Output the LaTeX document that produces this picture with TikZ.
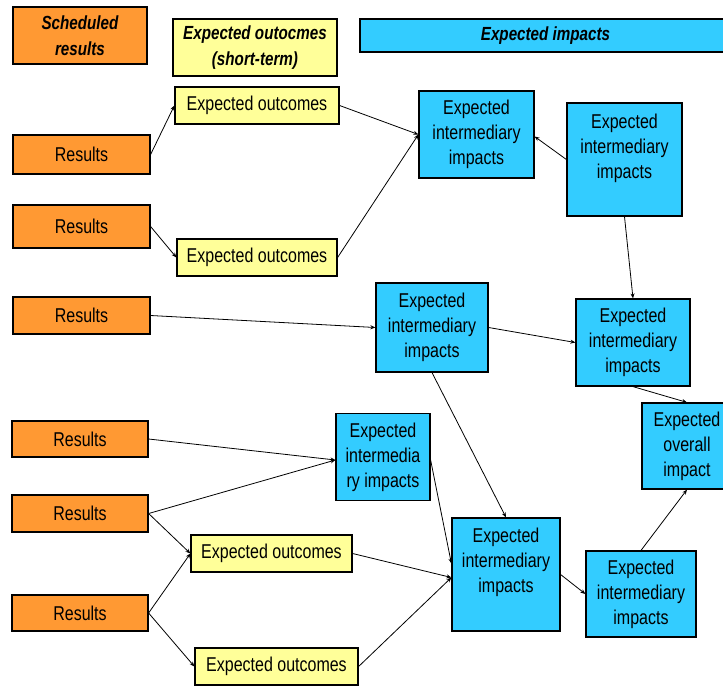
\documentclass[tikz,border=0pt]{standalone}
\usepackage{fontspec}
\setmainfont{Liberation Sans}[FakeStretch=0.8]
\usetikzlibrary{arrows.meta,calc}
\definecolor{orng}{HTML}{FF9933}
\definecolor{yel}{HTML}{FFFF99}
\definecolor{blu}{HTML}{33CCFF}
\begin{document}
\begin{tikzpicture}[x=1pt,y=-1pt,
 box/.style={draw=black, line width=1.2pt, inner sep=0pt, align=center, font=\fontsize{20}{25}\selectfont},
 res/.style={box, fill=orng},
 outc/.style={box, fill=yel},
 imp/.style={box, fill=blu},
 head/.style={font=\fontsize{19}{26}\selectfont\bfseries\itshape},
 conn/.style={line width=0.8pt, -{Stealth[length=5pt,width=4pt]}},
 lbl/.style={align=center, inner sep=0pt, font=\fontsize{20}{25}\selectfont}]
\useasboundingbox (0,0) rectangle (723,686);
\clip (0,0) rectangle (723,686);
% headers
\node[res, head, minimum width=134pt, minimum height=57pt] (sched) at (80,35.5) {Scheduled\\results};
\node[outc, head, minimum width=164pt, minimum height=57pt] (outh) at (255,47.5) {Expected outocmes\\(short-term)};
\node[imp, head, minimum width=371pt, minimum height=33pt] (imph) at (545.5,35.5) {Expected impacts};
% results
\node[res, minimum width=137pt, minimum height=39pt] (r1) at (81.5,154.5) {Results};
\node[res, minimum width=137pt, minimum height=43pt] (r2) at (81.5,226.5) {Results};
\node[res, minimum width=137pt, minimum height=37pt] (r3) at (81.5,315.5) {Results};
\node[res, minimum width=136pt, minimum height=36pt] (r4) at (80,439) {Results};
\node[res, minimum width=136pt, minimum height=37pt] (r5) at (80,513.5) {Results};
\node[res, minimum width=136pt, minimum height=36pt] (r6) at (80,613) {Results};
% outcomes
\node[outc, minimum width=164pt, minimum height=37pt] (eo1) at (257,105.5) {Expected outcomes};
\node[outc, minimum width=160pt, minimum height=37pt] (eo2) at (257,257.5) {Expected outcomes};
\node[outc, minimum width=161pt, minimum height=37pt] (eo3) at (271.5,553.5) {Expected outcomes};
\node[outc, minimum width=163pt, minimum height=37pt] (eo4) at (276.5,666.5) {Expected outcomes};
% impacts
\node[imp, minimum width=115pt, minimum height=87pt] (i1) at (476.5,134.5) {Expected\\intermediary\\impacts};
\node[imp, minimum width=115pt, minimum height=113pt] (i2) at (624.5,159.5) {};
\node[lbl] (i2t) at (624.5,148) {Expected\\intermediary\\impacts};
\node[imp, minimum width=112pt, minimum height=89pt] (i3) at (432,327.5) {Expected\\intermediary\\impacts};
\node[imp, minimum width=114pt, minimum height=87pt] (i4) at (633,342.5) {Expected\\intermediary\\impacts};
\node[imp, minimum width=94pt, minimum height=87pt] (i5) at (383,457) {Expected\\intermedia\\ry impacts};
\node[imp, minimum width=108pt, minimum height=113pt] (i6) at (506,574.5) {};
\node[lbl] (i6t) at (506,562) {Expected\\intermediary\\impacts};
\node[imp, minimum width=110pt, minimum height=86pt] (i7) at (641,594) {Expected\\intermediary\\impacts};
\node[imp, minimum width=90pt, minimum height=86pt] (ov) at (687,446) {Expected\\overall\\impact};
% connectors
\draw[conn] (r1.east) -- (eo1.west);
\draw[conn] (r2.east) -- (eo2.west);
\draw[conn] (eo1.east) -- (i1.west);
\draw[conn] (eo2.east) -- (i1.west);
\draw[conn] (i2.west) -- ([yshift=-2pt]i1.east);
\draw[conn] (i2.south) -- (i4.north);
\draw[conn] (r3.east) -- (i3.west);
\draw[conn] (i3.east) -- (i4.west);
\draw[conn] (i4.south) -- (ov.north);
\draw[conn] (i3.south) -- (i6.north);
\draw[conn] (r4.east) -- ([yshift=-3pt]i5.west);
\draw[conn] (r5.east) -- ([yshift=-3pt]i5.west);
\draw[conn] (r5.east) -- (eo3.west);
\draw[conn] (r6.east) -- (eo3.west);
\draw[conn] (r6.east) -- (eo4.west);
\draw[conn] ([yshift=-3pt]i5.east) -- ([yshift=11pt]i6.west);
\draw[conn] (eo3.east) -- ([yshift=-3pt]i6.west);
\draw[conn] (eo4.east) -- ([yshift=-3pt]i6.west);
\draw[conn] (i6.east) -- (i7.west);
\draw[conn] (i7.north) -- (ov.south);
\end{tikzpicture}
\end{document}
